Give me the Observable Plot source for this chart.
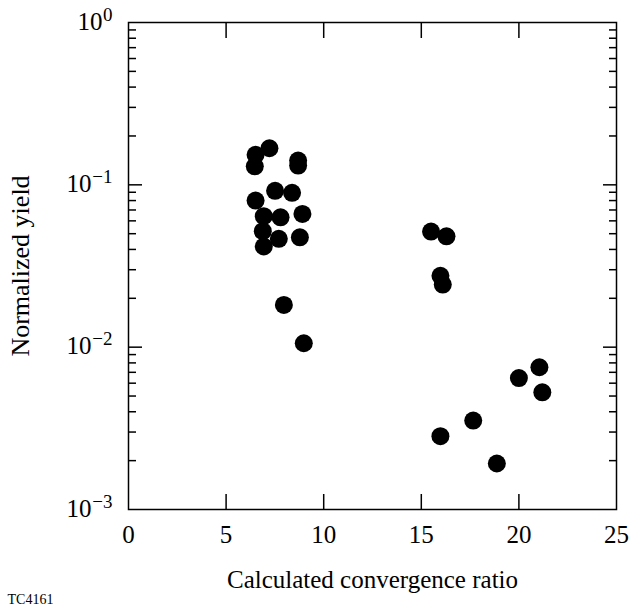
<!DOCTYPE html>
<html>
<head>
<meta charset="utf-8">
<script src="https://cdn.jsdelivr.net/npm/d3@7"></script>
<script src="https://cdn.jsdelivr.net/npm/@observablehq/plot@0.6"></script>
<style>
  html, body { margin: 0; padding: 0; background: #fff; }
</style>
</head>
<body>
<div id="chart"></div>
<script>
// Data
const convergenceRatio = [
  7.22, 6.51, 6.47, 8.69, 8.69, 7.51, 8.38, 6.51, 6.93, 7.79, 8.91, 6.88, 7.70, 8.78, 6.93, 7.96, 8.98,
  15.50, 16.29, 15.98, 16.10, 20.00, 21.05, 21.20, 17.66, 15.98, 18.87
];
const normalizedYield = [
  0.168, 0.153, 0.130, 0.141, 0.1315, 0.0918, 0.0893, 0.080, 0.0641, 0.0631, 0.0662, 0.0518, 0.0465, 0.0475, 0.0417, 0.0182, 0.01057,
  0.0515, 0.0482, 0.0275, 0.0243, 0.00645, 0.00752, 0.00527, 0.00353, 0.00283, 0.00192
];

// Axis tick values and labels
const xTicks = [0, 5, 10, 15, 20, 25];
const xInnerTicks = [5, 10, 15, 20];
const yDecades = [1, 0.1, 0.01, 0.001];
const yExponents = ["0", "\u22121", "\u22122", "\u22123"];
const yMinorMultipliers = [2, 3, 4, 5, 6, 7, 8, 9];

const xLabel = "Calculated convergence ratio";
const yLabel = "Normalized yield";
const figureId = "TC4161";

const yMinor = yDecades.slice(1).flatMap(d => yMinorMultipliers.map(m => d * m));
const font = "Liberation Serif";

const shortExp = yDecades.filter((d, i) => yExponents[i].length === 1);
const longExp = yDecades.filter((d, i) => yExponents[i].length > 1);
const expOf = d => yExponents[yDecades.indexOf(d)];

const chart = Plot.plot({
  width: 629,
  height: 606,
  marginLeft: 128,
  marginRight: 13,
  marginTop: 22,
  marginBottom: 97,
  style: { fontFamily: font, background: "white" },
  x: { domain: [0, 25] },
  y: { type: "log", domain: [0.001, 1] },
  marks: [
    Plot.frame({ stroke: "black", strokeWidth: 1.5 }),
    // inward ticks
    Plot.axisX(xInnerTicks, { anchor: "bottom", tickSize: -15, fill: "none", strokeWidth: 1.5 }),
    Plot.axisX(xInnerTicks, { anchor: "top", tickSize: -15, fill: "none", strokeWidth: 1.5 }),
    Plot.axisY(yDecades.slice(1, 3), { anchor: "left", tickSize: -14, fill: "none", strokeWidth: 1.5 }),
    Plot.axisY(yDecades.slice(1, 3), { anchor: "right", tickSize: -14, fill: "none", strokeWidth: 1.5 }),
    Plot.axisY(yMinor, { anchor: "left", tickSize: -8, fill: "none", strokeWidth: 1.5 }),
    Plot.axisY(yMinor, { anchor: "right", tickSize: -8, fill: "none", strokeWidth: 1.5 }),
    // x tick labels
    Plot.text(xTicks, {
      x: d => d, frameAnchor: "bottom", dy: 33, textAnchor: "middle", lineAnchor: "bottom",
      text: d => String(d), fontSize: 25, fontFamily: font, fill: "black"
    }),
    // y tick labels: base "10" and exponent
    Plot.text(shortExp, {
      y: d => d, frameAnchor: "left", dx: -26, dy: 7, textAnchor: "end", lineAnchor: "bottom",
      text: () => "10", fontSize: 25, fontFamily: font, fill: "black"
    }),
    Plot.text(longExp, {
      y: d => d, frameAnchor: "left", dx: -37, dy: 7, textAnchor: "end", lineAnchor: "bottom",
      text: () => "10", fontSize: 25, fontFamily: font, fill: "black"
    }),
    Plot.text(yDecades, {
      y: d => d, frameAnchor: "left", dx: -16, dy: -2, textAnchor: "end", lineAnchor: "bottom",
      text: expOf, fontSize: 19, fontFamily: font, fill: "black"
    }),
    // axis titles
    Plot.text([xLabel], {
      frameAnchor: "bottom", dy: 78, textAnchor: "middle", lineAnchor: "bottom",
      text: d => d, fontSize: 25, fontFamily: font, fill: "black"
    }),
    Plot.text([yLabel], {
      frameAnchor: "left", dx: -108, rotate: -90, textAnchor: "middle", lineAnchor: "middle",
      text: d => d, fontSize: 26, fontFamily: font, fill: "black"
    }),
    Plot.text([figureId], {
      frameAnchor: "bottom-left", dx: -121, dy: 94, textAnchor: "start", lineAnchor: "bottom",
      text: d => d, fontSize: 14, fontFamily: font, fill: "black"
    }),
    // data
    Plot.dot(normalizedYield, {
      x: (d, i) => convergenceRatio[i], y: d => d, r: 9, fill: "black", stroke: "none"
    })
  ]
});
document.getElementById("chart").appendChild(chart);
</script>
</body>
</html>
